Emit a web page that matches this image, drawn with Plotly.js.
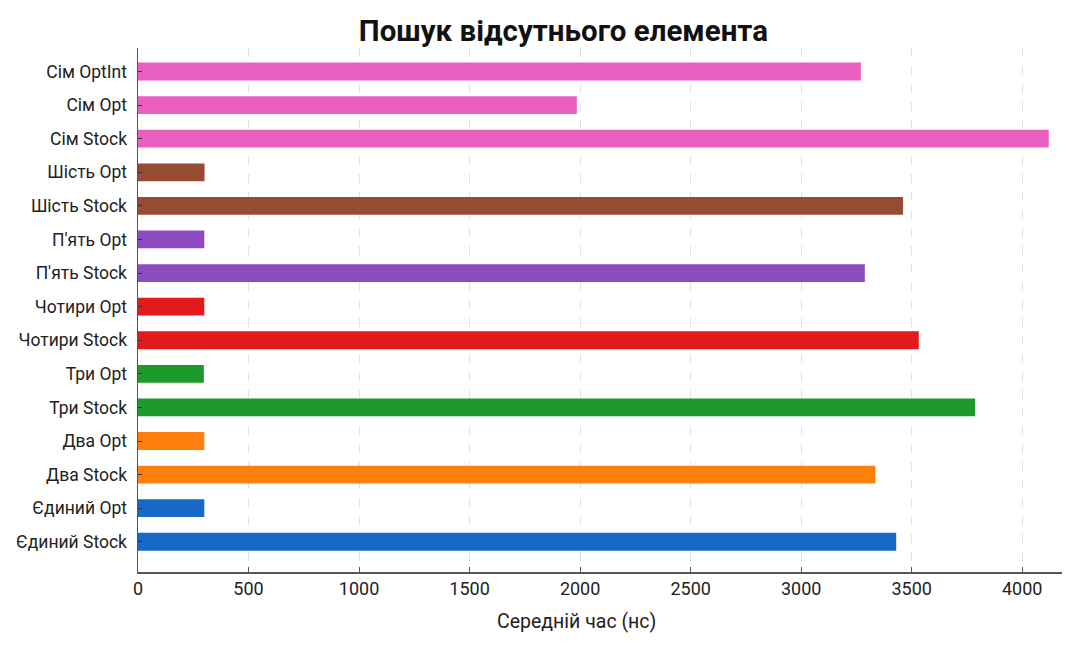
<!DOCTYPE html>
<html>
<head>
<meta charset="utf-8">
<script src="https://cdn.plot.ly/plotly-3.0.1.min.js"></script>
<style>html,body{margin:0;padding:0;background:#fff;}#chart{width:1067px;height:648px;}</style>
</head>
<body>
<div id="chart"></div>
<script>
const categories = ["Єдиний Stock","Єдиний Opt","Два Stock","Два Opt","Три Stock","Три Opt","Чотири Stock","Чотири Opt","П'ять Stock","П'ять Opt","Шість Stock","Шість Opt","Сім Stock","Сім Opt","Сім OptInt"];
const values = [3430, 300, 3336, 300, 3787, 298, 3532, 300, 3288, 300, 3461, 301, 4120, 1985, 3270];
const barColors = ["#1868c8","#1868c8","#ff7f0e","#ff7f0e","#1e9a2c","#1e9a2c","#e31a1c","#e31a1c","#8d4bc0","#8d4bc0","#964b33","#964b33","#e95fbf","#e95fbf","#e95fbf"];
const xTicks = [0,500,1000,1500,2000,2500,3000,3500,4000];

const trace = {
  type: 'bar',
  orientation: 'h',
  y: categories,
  x: values,
  width: 0.53,
  marker: {color: barColors, line: {width: 0}},
  hoverinfo: 'x+y'
};

const font = "Roboto, 'Noto Sans', sans-serif";
const layout = {
  width: 1067, height: 648,
  margin: {l: 138, r: 5, t: 48, b: 76},
  paper_bgcolor: '#fff', plot_bgcolor: '#fff',
  showlegend: false,
  font: {family: font, color: '#222', size: 17},
  title: {text: '<b>Пошук відсутнього елемента</b>', font: {family: font, size: 29.5, color: '#111'}, x: 0.528, xref: 'container', y: 0.953, yref: 'container', xanchor: 'center', yanchor: 'middle'},
  xaxis: {
    range: [0, 4180], tickvals: xTicks, ticktext: xTicks.map(String),
    showgrid: true, gridcolor: '#e2e2e2', griddash: 'dash', gridwidth: 1,
    zeroline: false, showline: true, linecolor: '#555', linewidth: 1.5,
    ticks: 'inside', ticklen: 5, tickcolor: '#555', tickwidth: 1,
    tickfont: {size: 18, family: font, color: '#222'}
  },
  yaxis: {
    type: 'category', range: [-0.9, 14.7],
    showgrid: false, zeroline: false, showline: true, linecolor: '#555', linewidth: 1.5,
    ticks: 'inside', ticklen: 4, tickcolor: '#333', tickwidth: 1,
    tickfont: {size: 17.5, family: font, color: '#222'}, ticklabelstandoff: 6
  },
  annotations: [{
    text: 'Середній час (нс)', xref: 'paper', yref: 'paper', x: 0.475, y: -0.095,
    xanchor: 'center', yanchor: 'middle', showarrow: false,
    font: {size: 19.5, family: font, color: '#222'}
  }]
};

Plotly.newPlot('chart', [trace], layout, {displayModeBar: false, staticPlot: true});
</script>
</body>
</html>
